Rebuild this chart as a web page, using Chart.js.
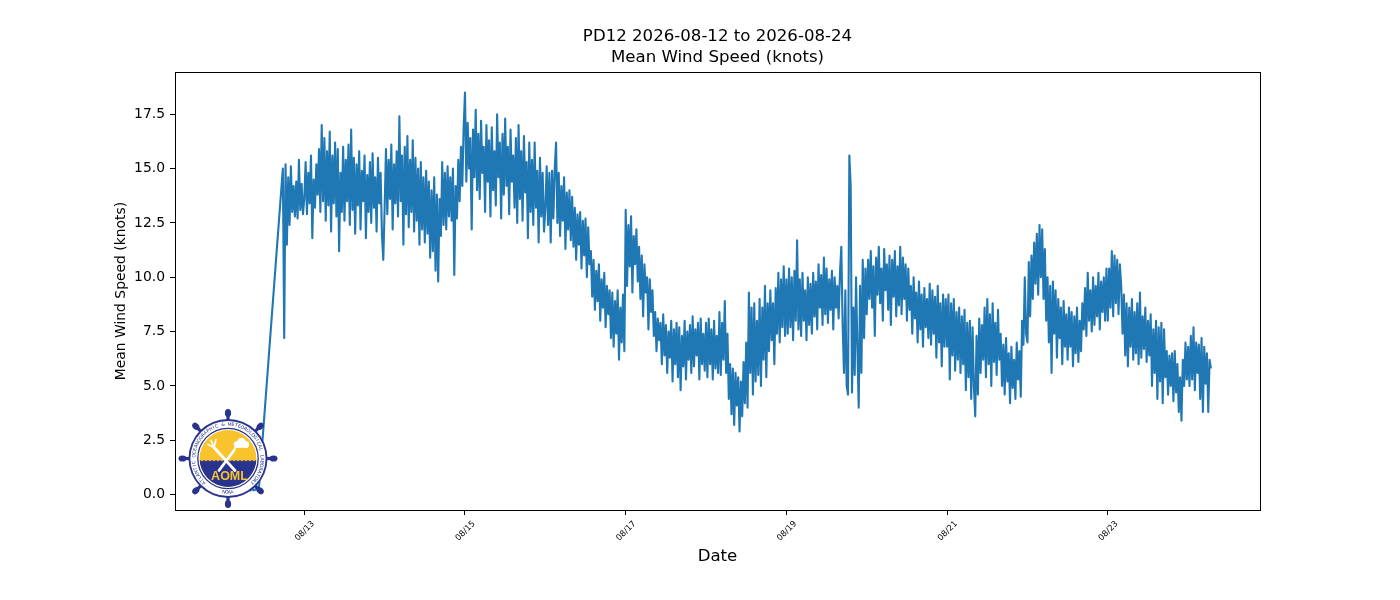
<!DOCTYPE html>
<html>
<head>
<meta charset="utf-8">
<script src="https://cdn.jsdelivr.net/npm/chart.js@4.4.1/dist/chart.umd.min.js"></script>
<style>
html,body{margin:0;padding:0;background:#fff;overflow:hidden}
canvas{display:block}
</style>
</head>
<body>
<canvas id="c" width="1400" height="600"></canvas>
<script>
// ---- texts ----
const titleLines = ['PD12 2026-08-12 to 2026-08-24', 'Mean Wind Speed (knots)'];
const xAxisTitle = 'Date';
const yAxisTitle = 'Mean Wind Speed (knots)';
const logoRingText = 'ATLANTIC OCEANOGRAPHIC & METEOROLOGICAL LABORATORY';
const logoBottomText = 'NOAA';
const logoName = 'AOML';

// ---- ticks ----
const xTickDays = [1, 3, 5, 7, 9, 11];            // days after 2026-08-12 00:00
const xTickLabels = ['08/13', '08/15', '08/17', '08/19', '08/21', '08/23'];
const yTickValues = [0, 2.5, 5, 7.5, 10, 12.5, 15, 17.5];

// ---- data: mean wind speed (knots), 60 samples per day (every 24 min) from 00:00 of each day ----
const samplesPerDay = 60;
const speed0812 = [0.3,0.2,0.3,0.2,0.2,0.3,0.2,0.2,0.3,0.2,
  0.2,0.3,0.2,0.2,0.2,0.3,0.2,0.2,0.3,0.2,
  0.2,0.3,0.2,0.2,0.3,0.2,0.2,
  null,null,null,null,null,null,null,null,null,null,null,null,null,null,null,null,null,
  15.0,7.2,
  15.2,11.5,14.6,12.4,15.1,13.0,14.2,12.8,14.4,12.7,15.4,13.1,14.3,12.9];
const speed0813 = [13.6,15.3,12.9,14.8,13.4,15.6,11.8,14.5,13.2,15.2,
  13.8,15.9,13.0,17.0,13.5,16.4,12.6,15.8,13.3,16.7,
  12.1,15.6,13.4,16.2,12.8,15.9,11.2,14.8,13.0,16.0,
  12.6,15.4,13.5,16.1,12.4,16.8,13.1,15.5,12.0,15.2,
  13.3,15.8,12.2,14.9,13.5,15.6,11.8,14.7,13.0,15.3,
  12.5,15.7,13.2,14.6,12.1,15.5,13.4,14.8,11.9,10.8];
const speed0814 = [13.2,15.9,12.9,15.4,13.6,16.1,12.2,15.2,13.4,15.8,
  12.8,17.4,13.5,15.6,11.5,16.0,12.9,16.5,12.3,15.4,
  13.0,16.3,12.1,15.5,12.6,15.0,11.5,15.3,12.2,14.6,
  11.6,14.9,12.0,14.4,10.9,14.0,11.2,14.6,10.3,13.8,
  9.8,13.6,11.9,15.3,12.4,14.8,12.2,15.1,12.8,14.6,
  12.6,15.0,10.1,14.2,12.7,15.4,13.5,16.0,14.2,16.9];
const speed0815 = [18.5,14.4,17.1,15.0,16.4,12.2,16.8,14.6,17.7,14.0,
  16.6,13.6,17.2,14.8,16.0,13.0,17.0,14.4,16.3,12.8,
  16.9,14.0,15.8,13.3,17.5,14.6,16.2,12.7,16.6,13.8,
  17.3,14.2,16.0,12.9,16.8,14.4,15.6,13.2,16.4,12.5,
  17.0,13.6,15.8,12.6,16.5,13.9,15.3,11.8,16.2,13.0,
  15.4,12.4,16.2,13.2,14.9,11.6,15.5,12.8,14.8,12.1];
const speed0816 = [13.2,15.1,12.4,14.8,11.6,14.9,12.7,15.0,16.2,12.5,
  14.8,11.9,14.2,12.6,14.6,11.3,13.9,12.2,14.0,11.7,
  13.7,11.4,13.2,10.8,12.9,11.5,13.0,10.4,12.6,11.0,
  12.7,10.0,12.3,10.6,11.2,9.1,10.8,8.5,10.3,8.9,
  10.6,8.0,9.9,8.6,10.2,7.7,9.6,8.3,9.4,7.2,
  9.3,6.8,8.9,7.4,9.4,6.2,8.6,7.0,9.2,6.6];
const speed0817 = [13.1,9.6,12.4,10.5,12.8,9.3,11.9,10.6,12.2,9.8,
  11.4,9.0,11.0,8.2,10.6,9.3,10.0,7.6,9.9,8.4,
  9.4,7.3,8.4,6.6,8.1,7.1,7.9,6.0,8.3,6.4,
  7.8,5.6,7.5,6.3,8.0,5.2,7.6,6.0,7.9,5.4,
  7.7,4.8,7.3,5.9,8.0,5.3,7.5,6.2,7.8,5.6,
  8.2,5.9,7.6,6.4,7.9,5.3,8.1,6.0,7.4,5.7];
const speed0818 = [7.9,5.4,8.1,6.0,7.6,5.3,8.0,5.8,7.3,5.6,
  8.4,5.5,7.9,6.2,8.9,5.6,7.4,4.4,6.0,3.7,
  5.8,3.2,5.6,4.1,5.4,2.9,5.2,3.6,6.1,4.2,
  7.0,4.0,9.3,5.6,8.6,4.6,8.8,5.2,8.0,5.5,
  9.0,5.0,8.6,6.2,9.6,5.4,8.8,6.6,9.4,7.1,
  8.8,6.0,9.5,7.4,10.2,7.0,9.9,7.7,10.5,7.3];
const speed0819 = [9.9,7.4,10.4,7.7,10.0,7.1,10.3,8.0,11.7,7.6,
  9.9,7.3,10.2,8.0,9.4,7.1,10.0,7.8,9.7,7.4,
  10.2,8.2,9.8,7.6,10.6,8.6,10.1,7.8,10.9,8.3,
  10.4,7.9,9.9,8.5,10.3,7.6,10.0,8.6,9.6,8.1,
  10.2,11.4,7.8,5.6,9.4,5.0,4.6,15.6,14.2,4.7,
  8.6,5.5,10.0,6.8,4.0,9.6,5.6,10.8,7.2,10.4];
const speed0820 = [8.3,10.8,9.0,11.2,8.6,10.5,7.3,10.9,9.2,11.4,
  8.8,10.4,8.0,11.3,9.4,10.6,8.5,11.0,7.8,10.8,
  9.1,11.2,8.2,10.5,8.7,11.4,8.3,10.9,9.0,10.6,
  8.0,10.4,8.5,9.6,7.4,10.0,8.1,9.3,7.0,9.8,
  7.6,9.2,6.8,9.5,7.7,9.0,7.2,9.7,6.9,9.4,
  7.4,9.1,6.3,9.6,7.0,8.8,5.9,9.2,6.8,9.0];
const speed0821 = [6.8,9.2,5.3,8.8,6.4,9.0,5.7,8.4,6.2,8.6,
  5.6,8.2,6.0,8.5,4.8,7.9,5.4,8.0,4.4,7.7,
  5.0,3.6,7.3,4.6,8.1,5.6,7.8,6.2,8.6,5.4,
  9.0,6.0,8.3,5.0,8.8,6.1,7.9,5.5,8.5,6.2,
  7.4,5.0,6.9,4.6,7.2,5.2,6.5,4.2,6.8,4.9,
  6.2,4.4,7.0,5.3,6.6,4.5,8.0,6.9,10.0,7.4];
const speed0822 = [7.0,10.7,8.2,11.0,9.0,11.6,9.7,12.0,9.2,12.4,
  10.0,12.2,9.0,11.3,8.0,10.0,7.0,9.6,5.6,9.8,
  7.4,9.4,6.3,9.0,7.2,8.6,6.0,8.9,6.8,8.3,
  6.2,8.6,6.8,8.4,5.9,8.2,6.5,8.6,6.1,8.0,
  6.6,8.8,7.6,9.5,7.3,10.2,8.0,9.4,7.5,10.0,
  7.8,9.6,8.2,10.2,7.6,9.8,8.4,10.0,8.0,10.4];
const speed0823 = [8.0,10.4,8.6,11.2,8.2,11.0,8.8,10.8,8.3,10.6,
  9.6,7.4,9.2,6.4,8.8,5.9,8.6,6.8,9.0,6.2,
  8.4,6.5,8.8,6.0,9.3,6.3,8.2,6.7,8.6,6.1,
  8.0,6.4,8.3,5.0,7.6,5.6,8.0,4.4,7.7,5.2,
  7.9,4.2,7.6,5.4,6.6,4.6,6.4,5.0,6.5,4.3,
  6.6,4.7,6.0,3.8,5.4,3.4,6.2,5.0,7.0,5.3];
const speed0824 = [6.8,5.0,7.3,5.3,7.7,4.8,7.0,5.6,6.9,4.4,
  7.2,3.8,6.8,5.1,6.5,3.8,6.2,5.8];
const dailySpeeds = [speed0812, speed0813, speed0814, speed0815, speed0816, speed0817,
  speed0818, speed0819, speed0820, speed0821, speed0822, speed0823, speed0824];

// ---- axis limits (days after 2026-08-12 00:00, knots) ----
const xMin = -0.609, xMax = 12.894;
const yMin = -0.71, yMax = 19.44;

const points = [];
dailySpeeds.forEach((arr, d) => {
  arr.forEach((v, i) => points.push({ x: d + i / samplesPerDay, y: v }));
});

const FONT = "'DejaVu Sans', 'Liberation Sans', sans-serif";

const frameBox = {
  id: 'frameBox',
  afterDraw(chart) {
    const { ctx, chartArea: a } = chart;
    ctx.save();
    ctx.strokeStyle = '#000';
    ctx.lineWidth = 1;
    ctx.strokeRect(Math.round(a.left) + 0.5, Math.round(a.top) + 0.5,
      Math.round(a.right - a.left), Math.round(a.bottom - a.top));
    ctx.restore();
  }
};

const logo = {
  id: 'logo',
  afterDraw(chart) {
    const ctx = chart.ctx;
    const cx = 228, cy = 458.5;
    const navy = '#27338c', yellow = '#f9c32e';
    ctx.save();
    // spokes and knobs
    ctx.strokeStyle = navy; ctx.fillStyle = navy; ctx.lineWidth = 3.2;
    for (let k = 0; k < 8; k++) {
      const a = k * Math.PI / 4;
      ctx.beginPath();
      ctx.moveTo(cx + Math.cos(a) * 37, cy + Math.sin(a) * 37);
      ctx.lineTo(cx + Math.cos(a) * 44, cy + Math.sin(a) * 44);
      ctx.stroke();
      ctx.save();
      ctx.translate(cx + Math.cos(a) * 45.5, cy + Math.sin(a) * 45.5);
      ctx.rotate(a);
      ctx.beginPath();
      ctx.ellipse(0, 0, 4.0, 3.1, 0, 0, Math.PI * 2);
      ctx.fill();
      ctx.restore();
    }
    // outer ring
    ctx.beginPath(); ctx.arc(cx, cy, 39.5, 0, Math.PI * 2); ctx.fillStyle = navy; ctx.fill();
    ctx.beginPath(); ctx.arc(cx, cy, 37.6, 0, Math.PI * 2); ctx.fillStyle = '#fff'; ctx.fill();
    // ring text
    ctx.fillStyle = navy;
    ctx.font = "4.7px " + FONT;
    ctx.textAlign = 'center'; ctx.textBaseline = 'middle';
    const n = logoRingText.length;
    const a0 = 132 * Math.PI / 180, a1 = 408 * Math.PI / 180;
    for (let k = 0; k < n; k++) {
      const a = a0 + (a1 - a0) * (k + 0.5) / n;
      ctx.save();
      ctx.translate(cx + Math.cos(a) * 34, cy + Math.sin(a) * 34);
      ctx.rotate(a + Math.PI / 2);
      ctx.fillText(logoRingText[k], 0, 0);
      ctx.restore();
    }
    const m = logoBottomText.length;
    for (let k = 0; k < m; k++) {
      const a = (99 - 18 * (k + 0.5) / m) * Math.PI / 180;
      ctx.save();
      ctx.translate(cx + Math.cos(a) * 34, cy + Math.sin(a) * 34);
      ctx.rotate(a - Math.PI / 2);
      ctx.fillText(logoBottomText[k], 0, 0);
      ctx.restore();
    }
    // inner ring line
    ctx.beginPath(); ctx.arc(cx, cy, 30.2, 0, Math.PI * 2);
    ctx.strokeStyle = navy; ctx.lineWidth = 1.3; ctx.stroke();
    // inner disk
    ctx.save();
    ctx.beginPath(); ctx.arc(cx, cy, 28.4, 0, Math.PI * 2); ctx.clip();
    ctx.fillStyle = yellow; ctx.fillRect(cx - 30, cy - 30, 60, 60);
    ctx.fillStyle = navy;
    ctx.beginPath();
    ctx.moveTo(cx - 30, cy + 3);
    for (let wx = -30; wx < 30; wx += 4) {
      ctx.quadraticCurveTo(cx + wx + 2, cy + 0.5, cx + wx + 4, cy + 3);
    }
    ctx.lineTo(cx + 30, cy + 30); ctx.lineTo(cx - 30, cy + 30); ctx.closePath();
    ctx.fill();
    ctx.restore();
    // white emblem: trident, cross and cloud
    ctx.strokeStyle = '#fff'; ctx.fillStyle = '#fff'; ctx.lineCap = 'round';
    ctx.lineWidth = 2.8;
    ctx.beginPath(); ctx.moveTo(cx - 14, cy - 11); ctx.lineTo(cx + 7, cy + 12); ctx.stroke();
    ctx.beginPath(); ctx.moveTo(cx + 6, cy - 8); ctx.lineTo(cx - 9, cy + 12); ctx.stroke();
    ctx.lineWidth = 1.7;
    ctx.beginPath();
    ctx.moveTo(cx - 14, cy - 11); ctx.lineTo(cx - 20, cy - 14);
    ctx.moveTo(cx - 14, cy - 11); ctx.lineTo(cx - 17, cy - 18);
    ctx.moveTo(cx - 14, cy - 11); ctx.lineTo(cx - 12, cy - 19);
    ctx.moveTo(cx + 6, cy - 8); ctx.lineTo(cx + 8, cy - 13);
    ctx.stroke();
    ctx.beginPath();
    ctx.arc(cx + 9, cy - 14, 3.3, 0, Math.PI * 2);
    ctx.arc(cx + 13.5, cy - 16.5, 4.2, 0, Math.PI * 2);
    ctx.arc(cx + 18, cy - 14, 3.2, 0, Math.PI * 2);
    ctx.fill();
    ctx.fillRect(cx + 7, cy - 14, 13, 3.2);
    // name
    ctx.fillStyle = yellow;
    ctx.font = "bold 12.5px 'Liberation Sans', 'DejaVu Sans', sans-serif";
    ctx.textAlign = 'center'; ctx.textBaseline = 'middle';
    ctx.fillText(logoName, cx + 1.5, cy + 18);
    ctx.restore();
  }
};

new Chart(document.getElementById('c'), {
  type: 'line',
  data: {
    datasets: [{
      data: points,
      borderColor: '#1f77b4',
      borderWidth: 2.1,
      pointRadius: 0,
      tension: 0,
      spanGaps: true,
      borderJoinStyle: 'round',
      fill: false
    }]
  },
  options: {
    responsive: false,
    devicePixelRatio: 1,
    animation: false,
    events: [],
    layout: { padding: { left: 113, right: 140, top: 0, bottom: 33 } },
    plugins: {
      legend: { display: false },
      tooltip: { enabled: false },
      title: {
        display: true,
        text: titleLines,
        color: '#000',
        fullSize: false,
        font: { family: FONT, size: 16.6, weight: 'normal', lineHeight: 1.27 },
        padding: { top: 26.5, bottom: 3.4 }
      }
    },
    scales: {
      x: {
        type: 'linear',
        position: 'bottom',
        min: xMin,
        max: xMax,
        afterBuildTicks: (s) => { s.ticks = xTickDays.map(v => ({ value: v })); },
        afterFit: (s) => { s.height = 57; },
        ticks: {
          autoSkip: false,
          minRotation: 45,
          maxRotation: 45,
          color: '#000',
          padding: 4,
          labelOffset: 9,
          font: { family: FONT, size: 8.3 },
          callback: (v, i) => xTickLabels[i]
        },
        grid: { drawOnChartArea: false, drawTicks: true, tickLength: 5, tickColor: '#000', tickWidth: 1 },
        border: { display: true, color: '#000', width: 1 },
        title: {
          display: true, text: xAxisTitle, color: '#000',
          font: { family: FONT, size: 16.6, weight: 'normal', lineHeight: 1.2 },
          padding: { top: 0, bottom: 0 }
        }
      },
      y: {
        type: 'linear',
        min: yMin,
        max: yMax,
        afterBuildTicks: (s) => { s.ticks = yTickValues.map(v => ({ value: v })); },
        afterFit: (s) => { s.width = 62; },
        ticks: {
          color: '#000',
          padding: 5,
          font: { family: FONT, size: 13.9 },
          callback: (v) => Number(v).toFixed(1)
        },
        grid: { drawOnChartArea: false, drawTicks: true, tickLength: 5, tickColor: '#000', tickWidth: 1 },
        border: { display: true, color: '#000', width: 1 },
        title: {
          display: true, text: yAxisTitle, color: '#000',
          font: { family: FONT, size: 13.9, weight: 'normal', lineHeight: 1.2 },
          padding: { top: 0, bottom: 0 }
        }
      }
    }
  },
  plugins: [frameBox, logo]
});
</script>
</body>
</html>
